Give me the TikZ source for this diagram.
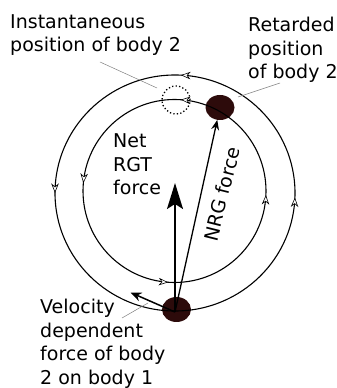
\documentclass[tikz,border=0pt]{standalone}
\usepackage{fontspec}
\setmainfont{DejaVu Sans}
\usetikzlibrary{arrows.meta,shapes.geometric,decorations.markings}
\definecolor{bodybrown}{HTML}{2D0B0B}
\begin{document}
\begin{tikzpicture}[x=1pt,y=1pt,
  lbl/.style={font=\fontsize{19}{23.5}\selectfont,align=left,inner sep=0pt},
  mass/.style={ellipse,fill=bodybrown,minimum width=29pt,minimum height=25pt,inner sep=0pt},
  leader/.style={gray,line width=0.5pt},
  orbit/.style={line width=1.1pt,postaction={decorate}},
  orbitarrow/.tip={Stealth[open,length=9.5pt,width=7.5pt,inset=3pt,fill=white,line width=0.6pt]}]
\useasboundingbox (0,0) rectangle (337,388);
\node[mass] (body1) at (176.5,78.5) {};
\node[mass] (body2) at (220,280.5) {};
\node[circle,draw,line width=1.3pt,dash pattern=on 1.3pt off 2.2pt,minimum size=28pt,inner sep=0pt] (ghost) at (176,288) {};
\draw[orbit,decoration={markings,
  mark=at position 0.242 with {\arrow{orbitarrow}},
  mark=at position 0.5 with {\arrow{orbitarrow}},
  mark=at position 0.994 with {\arrow{orbitarrow}}}]
  (175,195) ellipse [x radius=120,y radius=118];
\draw[orbit,decoration={markings,
  mark=at position 0.239 with {\arrow{orbitarrow}},
  mark=at position 0.486 with {\arrow{orbitarrow}},
  mark=at position 0.739 with {\arrow{orbitarrow}},
  mark=at position 0.993 with {\arrow{orbitarrow}}}]
  (174.5,197) circle [radius=91.5];
\coordinate (base) at (175,76);
\coordinate (ntip) at (175,205);
\coordinate (vtip) at (130.5,95.5);
\draw[line width=1.6pt,-{Stealth[length=26pt,width=16pt,inset=5pt]}] (base) -- (ntip);
\draw[line width=1.3pt,-{Stealth[length=10pt,width=8pt]}] (base) -- (body2);
\draw[line width=1.5pt,-{Stealth[length=11pt,width=9pt]}] (base) -- (vtip);
\node[lbl,anchor=base west] (inst) at (10,336) {Instantaneous\\position of body 2};
\node[lbl,anchor=base west] (ret) at (248,309) {Retarded\\position\\of body 2};
\node[lbl,anchor=base west] (net) at (113,193) {Net\\RGT\\force};
\node[lbl,rotate=76] (nrg) at (222,194) {NRG force};
\node[lbl,anchor=base west] (vel) at (40,4) {Velocity\\dependent\\force of body\\2 on body 1};
\coordinate (inststart) at (100,326);
\coordinate (instend) at (157,300);
\coordinate (retstart) at (280,305);
\coordinate (retend) at (238,291);
\coordinate (velstart) at (122,70);
\coordinate (velend) at (148,85);
\draw[leader] (inststart) -- (instend);
\draw[leader] (retstart) -- (retend);
\draw[leader] (velstart) -- (velend);
\end{tikzpicture}
\end{document}
